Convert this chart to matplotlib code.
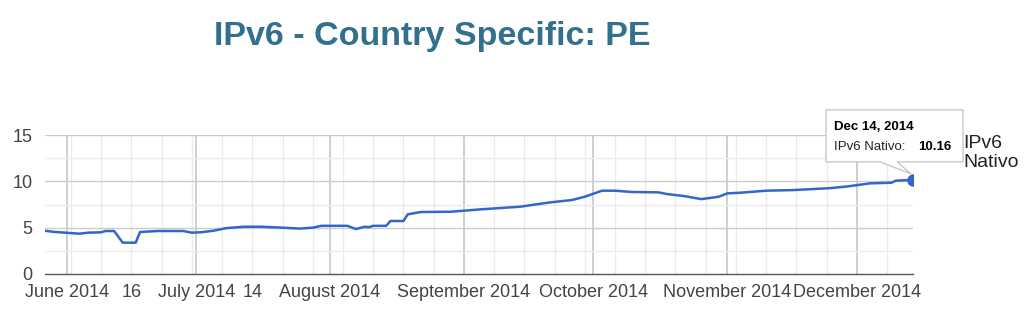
"""IPv6 adoption chart for Peru (PE), Google-charts style."""

import matplotlib
import matplotlib.pyplot as plt
import matplotlib.dates as mdates
import pandas as pd
from matplotlib.patches import Polygon
from matplotlib.transforms import IdentityTransform

matplotlib.use("Agg")

plt.rcParams["font.family"] = ["Liberation Sans", "DejaVu Sans"]

# ---- data ------------------------------------------------------------------
dates = [
    "2014-05-27", "2014-05-29", "2014-06-04", "2014-06-06", "2014-06-09",
    "2014-06-10", "2014-06-12", "2014-06-14", "2014-06-17", "2014-06-18",
    "2014-06-22", "2014-06-28", "2014-06-30", "2014-07-02", "2014-07-05",
    "2014-07-08", "2014-07-12", "2014-07-16", "2014-07-21", "2014-07-25",
    "2014-07-28", "2014-07-30", "2014-08-05", "2014-08-07", "2014-08-09",
    "2014-08-10", "2014-08-11", "2014-08-14", "2014-08-15", "2014-08-18",
    "2014-08-19", "2014-08-22", "2014-08-29", "2014-09-05", "2014-09-14",
    "2014-09-21", "2014-09-26", "2014-09-29", "2014-10-03", "2014-10-06",
    "2014-10-10", "2014-10-16", "2014-10-18", "2014-10-22", "2014-10-26",
    "2014-10-29", "2014-10-30", "2014-11-01", "2014-11-04", "2014-11-10",
    "2014-11-16", "2014-11-25", "2014-11-29", "2014-12-04", "2014-12-09",
    "2014-12-10", "2014-12-14",
]
ipv6_nativo = [
    4.67, 4.55, 4.35, 4.46, 4.50,
    4.64, 4.64, 3.38, 3.38, 4.53,
    4.64, 4.64, 4.46, 4.50, 4.67,
    4.95, 5.10, 5.10, 5.00, 4.90,
    5.00, 5.20, 5.20, 4.85, 5.10,
    5.05, 5.20, 5.20, 5.72, 5.72,
    6.44, 6.69, 6.72, 6.98, 7.26,
    7.73, 7.98, 8.34, 8.99, 8.99,
    8.85, 8.81, 8.63, 8.41, 8.08,
    8.27, 8.34, 8.70, 8.77, 8.99,
    9.05, 9.27, 9.46, 9.78, 9.85,
    10.07, 10.16,
]
tick_dates = [
    "2014-06-01", "2014-06-16", "2014-07-01", "2014-07-14", "2014-08-01",
    "2014-09-01", "2014-10-01", "2014-11-01", "2014-12-01",
]
tick_labels = [
    "June 2014", "16", "July 2014", "14", "August 2014",
    "September 2014", "October 2014", "November 2014", "December 2014",
]
y_ticks = [0, 5, 10, 15]
series_name = "IPv6 Nativo"
title = "IPv6 - Country Specific: PE"

x = pd.to_datetime(dates)
ticks = pd.to_datetime(tick_dates)
month_starts = pd.date_range("2014-06-01", "2014-12-01", freq="MS")
mondays = pd.date_range("2014-06-02", "2014-12-14", freq="W-MON")

# ---- figure ----------------------------------------------------------------
fig = plt.figure(figsize=(10.24, 3.2), dpi=100)
ax = fig.add_axes([45 / 1024, 46 / 320, 868 / 1024, 139 / 320])

line_color = "#3366cc"

for d in mondays:
    ax.axvline(d, color="#ebebeb", lw=1, zorder=0)
for d in month_starts:
    ax.axvline(d, color="#cfcfcf", lw=1.4, zorder=0)
for v in [2.5, 7.5, 12.5]:
    ax.axhline(v, color="#ebebeb", lw=1, zorder=0)
for v in y_ticks[1:]:
    ax.axhline(v, color="#cccccc", lw=1, zorder=0)

ax.plot(x, ipv6_nativo, color=line_color, lw=1.8, zorder=3)
ax.plot(x[-1], ipv6_nativo[-1], "o", color=line_color, ms=8, zorder=4)

ax.set_xlim(pd.Timestamp("2014-05-27"), pd.Timestamp("2014-12-14"))
ax.set_ylim(0, 15)
ax.set_yticks(y_ticks)
ax.set_xticks(ticks)
ax.set_xticklabels(tick_labels)
ax.tick_params(axis="both", length=0, labelsize=13, labelcolor="#444444")
ax.tick_params(axis="y", pad=9)
ax.tick_params(axis="x", pad=7)
for side in ["left", "right", "top"]:
    ax.spines[side].set_visible(False)
ax.spines["bottom"].set_color("#555555")
ax.spines["bottom"].set_linewidth(1)
ax.set_zorder(0)

fig.text(432 / 1024, 1 - 36 / 320, title, ha="center", va="center",
         fontsize=24.5, fontweight="bold", color="#32708e")

# legend label on the right
fig.text(963 / 1024, 1 - 153 / 320, series_name.replace(" ", "\n"),
         ha="left", va="center", fontsize=14, color="#222222", linespacing=1.2)

# ---- tooltip anchored to the last point ------------------------------------
fig.canvas.draw()
px, py = ax.transData.transform((mdates.date2num(x[-1]), ipv6_nativo[-1]))
box = [
    (px - 87, py + 70), (px + 50, py + 70), (px + 50, py + 18),
    (px - 16, py + 18), (px - 2, py + 6), (px - 33, py + 18),
    (px - 87, py + 18),
]
fig.add_artist(Polygon(box, closed=True, transform=IdentityTransform(),
                       facecolor="white", edgecolor="#c8c8c8", lw=1, zorder=5))
fig.text(px - 79, py + 53, "Dec 14, 2014", transform=IdentityTransform(),
         ha="left", va="center", fontsize=9.5, fontweight="bold",
         color="#000000", zorder=6)
fig.text(px - 79, py + 33, series_name + ":", transform=IdentityTransform(),
         ha="left", va="center", fontsize=9.5, color="#222222", zorder=6)
fig.text(px + 5, py + 33, f"{ipv6_nativo[-1]:.2f}", transform=IdentityTransform(),
         ha="left", va="center", fontsize=9.5, fontweight="bold",
         color="#000000", zorder=6)

fig.savefig("out.png", dpi=100)
